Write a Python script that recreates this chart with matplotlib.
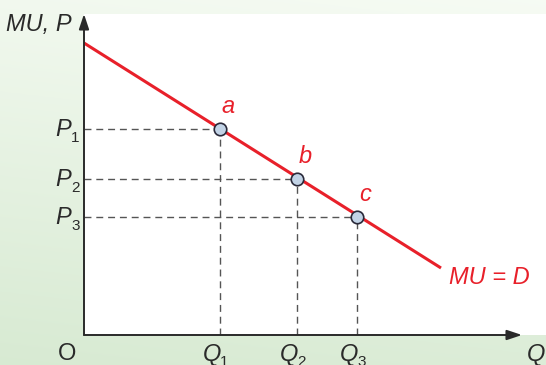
import numpy as np
import matplotlib
matplotlib.use("Agg")
import matplotlib.pyplot as plt

plt.rcParams["font.family"] = ["Liberation Sans", "DejaVu Sans"]

# Data (in chart units)
demand_x = [0, 357]
demand_y = [292, 67]
point_names = ["a", "b", "c"]
q_vals = [136, 213, 273]
p_vals = [206, 156, 118]
q_labels = ["1", "2", "3"]
p_labels = ["1", "2", "3"]

W, H = 546, 365
fig = plt.figure(figsize=(W / 100, H / 100), dpi=100)

# gradient background
bg = fig.add_axes([0, 0, 1, 1])
bg.set_axis_off()
gx = np.linspace(0, 1, 200)
gy = np.linspace(0, 1, 200)
GX, GY = np.meshgrid(gx, gy)
t = np.clip(0.85 * GY + 0.15 * (1 - GX), 0, 1)
c_light = np.array([0.965, 0.985, 0.955])
c_dark = np.array([0.845, 0.918, 0.825])
img = c_light[None, None, :] * (1 - t[..., None]) + c_dark[None, None, :] * t[..., None]
bg.imshow(img, extent=[0, 1, 0, 1], aspect="auto", origin="upper")
bg.set_xlim(0, 1)
bg.set_ylim(0, 1)

# plot area: x 84..546, y 14..335 (pixels)
x0, x1 = 84, 546
ytop, ybot = 14, 335
ax = fig.add_axes([x0 / W, (H - ybot) / H, (x1 - x0) / W, (ybot - ytop) / H])
ax.set_xlim(0, x1 - x0)
ax.set_ylim(0, ybot - ytop)
ax.set_facecolor("white")
for s in ax.spines.values():
    s.set_visible(False)
ax.set_xticks([])
ax.set_yticks([])

axis_col = "#2a2a2a"
ax.annotate("", xy=(438, 0), xytext=(0, 0),
            arrowprops=dict(arrowstyle="-|>,head_length=0.9,head_width=0.3", color=axis_col, lw=1.4,
                            shrinkA=0, shrinkB=0), annotation_clip=False)
ax.annotate("", xy=(0, 321), xytext=(0, 0),
            arrowprops=dict(arrowstyle="-|>,head_length=0.9,head_width=0.3", color=axis_col, lw=1.4,
                            shrinkA=0, shrinkB=0), annotation_clip=False)

dash_col = "#555555"
for q, p in zip(q_vals, p_vals):
    ax.plot([0, q], [p, p], color=dash_col, lw=1.0, ls=(0, (5, 3.5)))
    ax.plot([q, q], [0, p], color=dash_col, lw=1.0, ls=(0, (5, 3.5)))

red = "#e8202a"
ax.plot(demand_x, demand_y, color=red, lw=2.2, solid_capstyle="butt")
ax.plot(q_vals, p_vals, "o", ms=9, mfc="#c2d3e6", mec="#2a2a3a", mew=1.2, zorder=5)

fs = 17
fsub = 11
txt_col = "#2a2a2a"
for name, q, p in zip(point_names, q_vals, p_vals):
    ax.text(q + 8, p + 11, name, color=red, fontsize=fs, style="italic", ha="center", va="bottom")

ax.text(365, 58, "MU = D", color=red, fontsize=fs, style="italic", ha="left", va="center")

for lab, p in zip(p_labels, p_vals):
    ax.text(-13, p, "P", color=txt_col, fontsize=fs, style="italic",
            ha="right", va="center", clip_on=False)
    ax.text(-13, p - 9, lab, color=txt_col, fontsize=fsub,
            ha="left", va="center", clip_on=False)
for lab, q in zip(q_labels, q_vals):
    ax.text(q + 1, -19, "Q", color=txt_col, fontsize=fs, style="italic",
            ha="right", va="center", clip_on=False)
    ax.text(q, -27, lab, color=txt_col, fontsize=fsub,
            ha="left", va="center", clip_on=False)

ax.text(-17, -19, "O", color=txt_col, fontsize=fs, ha="center", va="center", clip_on=False)
ax.text(452, -19, "Q", color=txt_col, fontsize=fs, style="italic", ha="center", va="center", clip_on=False)
ax.text(-12, 311, "MU, P", color=txt_col, fontsize=fs, style="italic", ha="right", va="center", clip_on=False)

fig.savefig("out.png", dpi=100)
